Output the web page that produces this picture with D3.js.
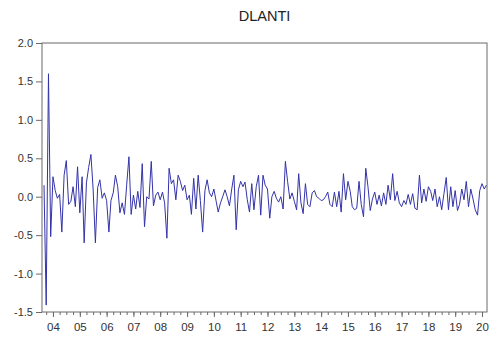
<!DOCTYPE html>
<html>
<head>
<meta charset="utf-8">
<script src="https://cdn.jsdelivr.net/npm/d3@7"></script>
<style>
  body { margin: 0; background: #fff; }
  text { font-family: "Liberation Sans", Arial, sans-serif; }
</style>
</head>
<body>
<svg id="chart" width="491" height="338"></svg>
<script>
// monthly observations, first one is 2003M09
const startMonth = new Date(2003, 8, 1);
const values = [
  0.15, -1.41, 1.60, -0.52, 0.26, 0.08, -0.02, 0.03, -0.46, 0.28,
  0.47, -0.10, -0.06, 0.13, -0.13, 0.39, -0.21, 0.26, -0.60, 0.18,
  0.38, 0.55, 0.10, -0.60, 0.12, 0.22, -0.02, 0.05, -0.05, -0.46,
  -0.05, 0.05, 0.28, 0.13, -0.21, -0.08, -0.23, 0.15, 0.52, -0.23,
  0.02, -0.16, 0.07, -0.14, 0.43, -0.39, 0.00, -0.03, 0.46, -0.12,
  0.02, 0.06, -0.04, 0.06, -0.08, -0.54, 0.37, 0.17, 0.22, -0.04,
  0.28, 0.20, 0.08, 0.15, -0.04, 0.02, -0.23, 0.24, -0.16, 0.28,
  -0.05, -0.46, 0.08, 0.22, 0.05, 0.00, 0.10, -0.06, -0.20, -0.08,
  0.00, 0.09, 0.00, -0.12, 0.10, 0.28, -0.43, 0.09, 0.20, 0.13,
  0.19, -0.04, -0.20, 0.17, -0.17, 0.13, 0.28, -0.24, 0.28, 0.15,
  0.10, -0.28, 0.00, 0.07, -0.02, -0.07, 0.00, -0.16, 0.46, 0.20,
  -0.03, 0.05, -0.06, -0.17, 0.30, -0.08, -0.22, 0.17, -0.10, -0.13,
  0.05, 0.08, 0.00, -0.02, -0.05, -0.04, 0.00, 0.06, -0.10, -0.13,
  0.06, -0.13, 0.07, -0.20, 0.30, -0.04, 0.20, 0.07, -0.13, -0.17,
  -0.15, 0.20, -0.10, -0.26, 0.37, 0.13, -0.18, -0.03, 0.06, -0.10,
  0.02, -0.12, 0.05, -0.10, 0.15, -0.04, 0.30, -0.05, 0.07, -0.08,
  -0.13, -0.05, -0.10, 0.03, -0.10, 0.04, -0.15, -0.17, 0.28, -0.08,
  0.10, -0.06, 0.13, 0.07, -0.05, 0.10, -0.13, 0.00, -0.17, 0.04,
  0.25, -0.17, 0.13, -0.13, 0.08, -0.18, -0.10, 0.10, -0.04, 0.20,
  -0.13, 0.10, -0.03, -0.17, -0.24, 0.08, 0.17, 0.10, 0.15
];
const yTicks = [-1.5, -1.0, -0.5, 0.0, 0.5, 1.0, 1.5, 2.0];
const yearLabels = ["04","05","06","07","08","09","10","11","12","13","14","15","16","17","18","19","20"];
const title = "DLANTI";

const data = values.map((v, i) => ({date: d3.timeMonth.offset(startMonth, i), value: v}));

const svg = d3.select("#chart");
const plotL = 42, plotR = 487, plotT = 43, plotB = 312;

const x = d3.scaleTime()
  .domain([data[0].date, data[data.length - 1].date])
  .range([44, 486.4]);
const y = d3.scaleLinear().domain([-1.5, 2.0]).range([plotB, plotT]);

// frame
svg.append("rect")
  .attr("x", plotL).attr("y", plotT)
  .attr("width", plotR - plotL).attr("height", plotB - plotT)
  .attr("fill", "none").attr("stroke", "#6a6a6a").attr("stroke-width", 1);

// y axis
const yAxis = d3.axisLeft(y).tickValues(yTicks).tickSize(6).tickPadding(3)
  .tickFormat(d => d < 0 ? "-" + d3.format(".1f")(-d) : d3.format(".1f")(d));
const gy = svg.append("g").attr("transform", `translate(${plotL},0)`).call(yAxis);
gy.select(".domain").remove();
gy.selectAll("line").attr("stroke", "#6a6a6a");
gy.selectAll("text").attr("font-size", 11).attr("fill", "#333");

// x axis: quarterly minor ticks, year labels at january
const quarters = d3.timeMonth.every(3).range(new Date(2003, 9, 1), new Date(2020, 3, 1));
const gxMinor = svg.append("g").attr("transform", `translate(0,${plotB})`)
  .call(d3.axisBottom(x).tickValues(quarters).tickSize(3).tickFormat(""));
gxMinor.select(".domain").remove();
gxMinor.selectAll("line").attr("stroke", "#6a6a6a");

const years = yearLabels.map(s => new Date(2000 + (+s), 0, 1));
const gx = svg.append("g").attr("transform", `translate(0,${plotB})`)
  .call(d3.axisBottom(x).tickValues(years).tickSize(5).tickPadding(6)
    .tickFormat((d, i) => yearLabels[i]));
gx.select(".domain").remove();
gx.selectAll("line").attr("stroke", "#6a6a6a");
gx.selectAll("text").attr("font-size", 11.5).attr("fill", "#333");

// series
const line = d3.line().x(d => x(d.date)).y(d => y(d.value));
svg.append("path")
  .datum(data)
  .attr("d", line)
  .attr("fill", "none")
  .attr("stroke", "#3333aa")
  .attr("stroke-width", 1)
  .attr("stroke-linejoin", "round");

// title
svg.append("text")
  .attr("x", (plotL + plotR) / 2).attr("y", 21)
  .attr("text-anchor", "middle")
  .attr("font-size", 14.5).attr("fill", "#222")
  .text(title);
</script>
</body>
</html>
